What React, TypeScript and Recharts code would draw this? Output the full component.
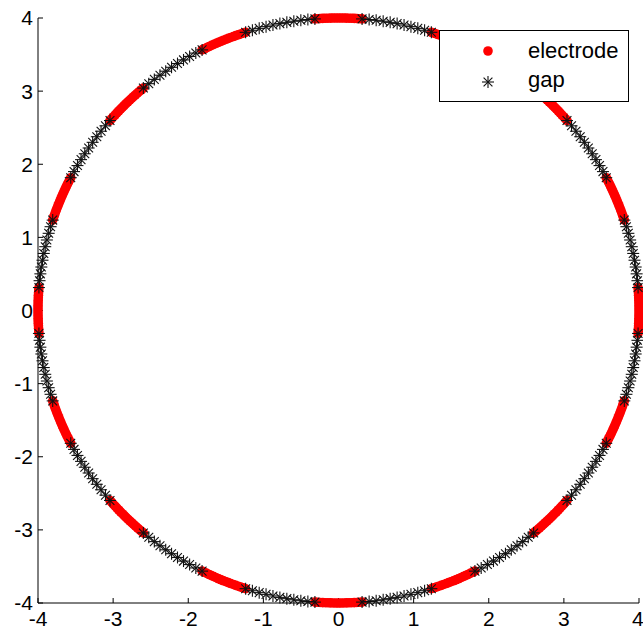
import { Scatter, ScatterChart, XAxis, YAxis } from "recharts";

// ring of 16 electrodes with gaps between them, radius 4
const radius = 4;
const electrodeCentres = [0, 22.5, 45, 67.5, 90, 112.5, 135, 157.5, 180, 202.5, 225, 247.5, 270, 292.5, 315, 337.5];
// angular positions (deg) around each centre
const electrodeSpan = [-4.5, -4, -3.5, -3, -2.5, -2, -1.5, -1, -0.5, 0, 0.5, 1, 1.5, 2, 2.5, 3, 3.5, 4, 4.5];
const gapSpan = [4.5, 5.85, 7.2, 8.55, 9.9, 11.25, 12.6, 13.95, 15.3, 16.65, 18];
const axisTicks = [-4, -3, -2, -1, 0, 1, 2, 3, 4];

const toPoint = (deg: number) => {
    const a = (deg * Math.PI) / 180;
    return { x: radius * Math.cos(a), y: radius * Math.sin(a) };
};

const electrodeData = electrodeCentres.flatMap(c => electrodeSpan.map(o => toPoint(c + o)));
const gapData = electrodeCentres.flatMap(c => gapSpan.map(o => toPoint(c + o)));

const font = "'Liberation Sans', Arial, Helvetica, sans-serif";

const RedDot = (props: any) => <circle cx={props.cx} cy={props.cy} r={4.8} fill="#ff0000" />;

const Asterisk = (props: any) => {
    const { cx, cy } = props;
    const d = 4.4;
    return <g stroke="#111" strokeWidth={1.1}>
        <line x1={cx - 6} y1={cy} x2={cx + 6} y2={cy} />
        <line x1={cx} y1={cy - 6} x2={cx} y2={cy + 6} />
        <line x1={cx - d} y1={cy - d} x2={cx + d} y2={cy + d} />
        <line x1={cx - d} y1={cy + d} x2={cx + d} y2={cy - d} />
    </g>;
};

const tickStyle = { fill: "#000", fontSize: 21, fontFamily: font };
const lineStyle = { stroke: "#000", strokeWidth: 1 };

const App = () => {
    return <div style={{ position: "absolute", left: 0, top: 0, width: 643, height: 630, background: "#fff" }}>
        <ScatterChart width={643} height={630} margin={{ top: 18, right: 4, bottom: 0, left: 0 }}>
            <XAxis xAxisId="x" type="number" dataKey="x" domain={[-4, 4]} ticks={axisTicks} height={27}
                tick={tickStyle} tickSize={-5} tickMargin={13} axisLine={lineStyle} tickLine={lineStyle} />
            <XAxis xAxisId="xt" orientation="top" type="number" dataKey="x" domain={[-4, 4]} ticks={axisTicks} height={0}
                tick={false} tickSize={-5} axisLine={lineStyle} tickLine={lineStyle} />
            <YAxis yAxisId="y" type="number" dataKey="y" domain={[-4, 4]} ticks={axisTicks} width={38}
                tick={tickStyle} tickSize={-5} tickMargin={10} axisLine={lineStyle} tickLine={lineStyle} />
            <YAxis yAxisId="yr" orientation="right" type="number" dataKey="y" domain={[-4, 4]} ticks={axisTicks} width={0}
                tick={false} tickSize={-5} axisLine={lineStyle} tickLine={lineStyle} />
            <Scatter name="electrode" data={electrodeData} xAxisId="x" yAxisId="y" shape={RedDot} isAnimationActive={false} />
            <Scatter name="gap" data={gapData} xAxisId="x" yAxisId="y" shape={Asterisk} isAnimationActive={false} />
        </ScatterChart>
        <div style={{
            position: "absolute", left: 439, top: 30, width: 188, height: 70, background: "#fff",
            border: "1px solid #000", fontFamily: font, fontSize: 22, color: "#000"
        }}>
            <svg width={20} height={20} style={{ position: "absolute", left: 38, top: 10 }}>
                <circle cx={10} cy={10} r={4.8} fill="#ff0000" />
            </svg>
            <span style={{ position: "absolute", left: 88, top: 7, lineHeight: "26px" }}>electrode</span>
            <svg width={20} height={20} style={{ position: "absolute", left: 38, top: 41 }}>
                <Asterisk cx={10} cy={10} />
            </svg>
            <span style={{ position: "absolute", left: 88, top: 36, lineHeight: "26px" }}>gap</span>
        </div>
    </div>;
};

export default App;
